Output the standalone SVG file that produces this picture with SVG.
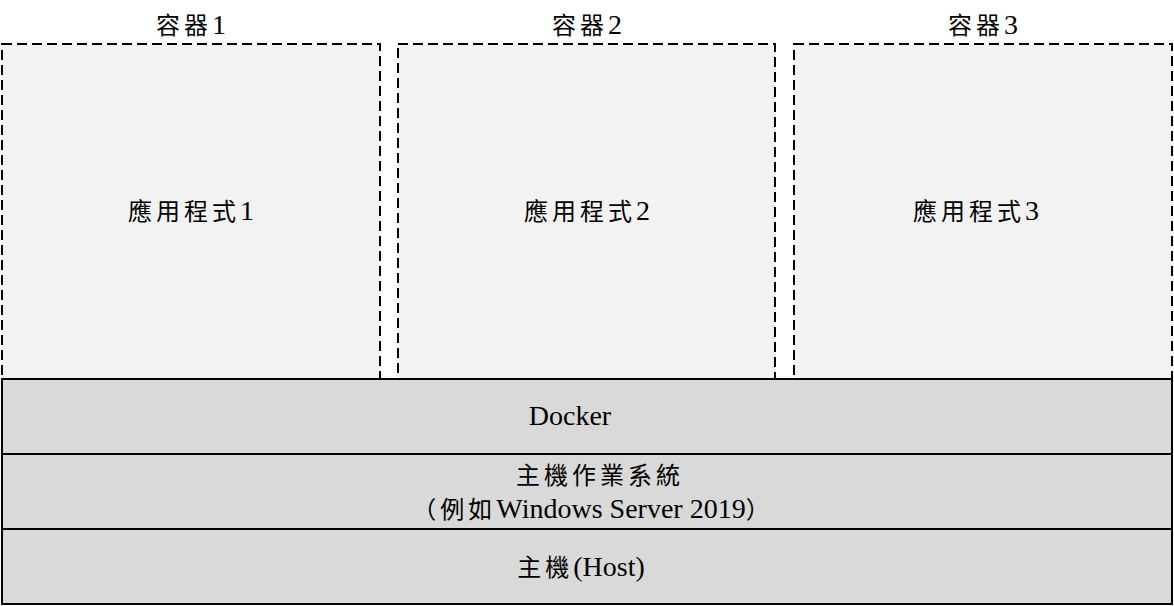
<svg xmlns="http://www.w3.org/2000/svg" width="1174" height="606" viewBox="0 0 1174 606">
<style>
.ctr{fill:#f2f2f2;stroke:#000;stroke-width:2;stroke-dasharray:10 5}
.layer{fill:#d9d9d9;stroke:#000;stroke-width:2}
text{font-family:"Liberation Serif","Noto Sans CJK TC",serif;font-size:28px;fill:#000;text-anchor:middle}
.c{font-size:24px;letter-spacing:4px}
</style>
<rect width="1174" height="606" fill="#fff"/>
<g id="container1">
<rect class="ctr" x="2" y="44" width="378" height="335"/>
<text x="191" y="34"><tspan class="c">容器</tspan>1</text>
<text x="191" y="220"><tspan class="c">應用程式</tspan>1</text>
</g>
<g id="container2">
<rect class="ctr" x="398" y="44" width="377" height="335"/>
<text x="587" y="34"><tspan class="c">容器</tspan>2</text>
<text x="587" y="220"><tspan class="c">應用程式</tspan>2</text>
</g>
<g id="container3">
<rect class="ctr" x="794" y="44" width="378" height="335"/>
<text x="983" y="34"><tspan class="c">容器</tspan>3</text>
<text x="976" y="220"><tspan class="c">應用程式</tspan>3</text>
</g>
<g id="docker">
<rect class="layer" x="2" y="379" width="1170" height="75"/>
<text x="570" y="425">Docker</text>
</g>
<g id="os">
<rect class="layer" x="2" y="454" width="1170" height="75"/>
<text x="600" y="484"><tspan class="c">主機作業系統</tspan></text>
<text x="593" y="518"><tspan class="c">（例如</tspan>Windows Server 2019<tspan class="c">）</tspan></text>
</g>
<g id="host">
<rect class="layer" x="2" y="529" width="1170" height="75"/>
<text x="581" y="576"><tspan class="c">主機</tspan>(Host)</text>
</g>
<g id="connectors"></g>
</svg>
